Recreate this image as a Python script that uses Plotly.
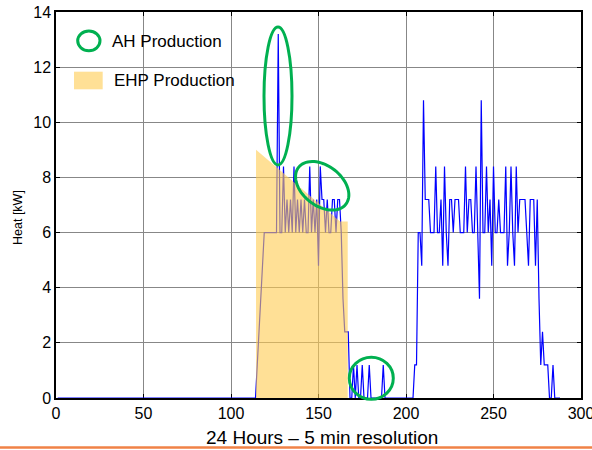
import math
import plotly.graph_objects as go

# ---------------- data ----------------
time_steps = list(range(1, 289))  # 5-min steps over 24 h

ah_production = [
    0, 0, 0, 0, 0, 0, 0, 0, 0, 0,            # 1-10
    0, 0, 0, 0, 0, 0, 0, 0, 0, 0,            # 11-20
    0, 0, 0, 0, 0, 0, 0, 0, 0, 0,            # 21-30
    0, 0, 0, 0, 0, 0, 0, 0, 0, 0,            # 31-40
    0, 0, 0, 0, 0, 0, 0, 0, 0, 0,            # 41-50
    0, 0, 0, 0, 0, 0, 0, 0, 0, 0,            # 51-60
    0, 0, 0, 0, 0, 0, 0, 0, 0, 0,            # 61-70
    0, 0, 0, 0, 0, 0, 0, 0, 0, 0,            # 71-80
    0, 0, 0, 0, 0, 0, 0, 0, 0, 0,            # 81-90
    0, 0, 0, 0, 0, 0, 0, 0, 0, 0,            # 91-100
    0, 0, 0, 0, 0, 0, 0, 0, 0, 0,            # 101-110
    0, 0, 0, 0, 1.2, 2.4, 3.6, 4.8, 6, 6,    # 111-120
    6, 6, 6, 6, 6, 6, 13.2, 6, 6, 8.4,       # 121-130
    6, 7.2, 6, 7.2, 6, 8.4, 6, 7.2, 6, 7.2,  # 131-140
    6, 7.2, 6, 6, 8.4, 6, 7.2, 6, 7.2, 4.8,  # 141-150
    8.4, 7.2, 7.2, 6, 7.2, 6, 6, 7.2, 7.2, 6,  # 151-160
    7.2, 7.2, 6, 3.6, 2.4, 2.4, 2.4, 0, 0, 1.2,  # 161-170
    0, 1.2, 0, 0, 1.2, 0, 0, 0, 1.2, 0,      # 171-180
    0, 0, 0, 0, 0, 0, 1.2, 0, 0, 0,          # 181-190
    0, 0, 0, 0, 0, 0, 0, 0, 0, 0,            # 191-200
    0, 0, 0, 0, 1.2, 1.2, 6, 6, 4.8, 10.8,   # 201-210
    7.2, 7.2, 7.2, 6, 6, 6, 8.4, 6, 6, 7.2,  # 211-220
    4.8, 8.4, 6, 4.8, 7.2, 7.2, 6, 7.2, 7.2, 7.2,  # 221-230
    6, 6, 6, 8.4, 6, 7.2, 7.2, 6, 6, 8.4,    # 231-240
    6, 3.6, 10.8, 6, 6, 8.4, 6, 7.2, 4.8, 8.4,  # 241-250
    6, 6, 7.2, 6, 6, 6, 8.4, 4.8, 6, 8.4,    # 251-260
    6, 4.8, 8.4, 6, 7.2, 7.2, 7.2, 7.2, 6, 4.8,  # 261-270
    7.2, 7.2, 7.2, 4.8, 7.2, 3.6, 1.2, 2.4, 1.2, 1.2,  # 271-280
    1.2, 0, 0, 1.2, 0, 0, 0, 0,              # 281-288
]
assert len(ah_production) == len(time_steps)

ehp_x = [114.3, 114.3, 162.3, 166.7, 166.7]
ehp_y = [0.0, 9.0, 6.4, 6.4, 0.0]

x_ticks = [0, 50, 100, 150, 200, 250, 300]
y_ticks = [0, 2, 4, 6, 8, 10, 12, 14]

legend_labels = ["AH Production", "EHP Production"]
x_title = "24 Hours \u2013 5 min resolution"
y_title = "Heat [kW]"

# ---------------- layout helpers ----------------
W, H = 592, 450
PL, PR, PT, PB = 56, 581, 12, 398
FONT = "Liberation Sans, Arial, sans-serif"
GREEN = "rgb(0,176,80)"
YELLOW = "rgba(255,204,80,0.6)"


def fx(p):
    return (p - PL) / (PR - PL)


def fy(p):
    return (PB - p) / (PB - PT)


def ellipse_box(x0, y0, x1, y1, width=3):
    return dict(type="circle", xref="paper", yref="paper",
                x0=fx(x0), x1=fx(x1), y0=fy(y1), y1=fy(y0),
                line=dict(color=GREEN, width=width), layer="above")


def rotated_ellipse(cx, cy, a, b, deg, width=3):
    th = math.radians(deg)
    pts = []
    for i in range(73):
        t = 2 * math.pi * i / 72
        ex, ey = a * math.cos(t), b * math.sin(t)
        px = cx + ex * math.cos(th) - ey * math.sin(th)
        py = cy + ex * math.sin(th) + ey * math.cos(th)
        pts.append(f"{fx(px):.5f},{fy(py):.5f}")
    path = "M " + " L ".join(pts) + " Z"
    return dict(type="path", xref="paper", yref="paper", path=path,
                line=dict(color=GREEN, width=width), layer="above")


fig = go.Figure()
fig.add_trace(go.Scatter(x=time_steps, y=ah_production, mode="lines",
                         line=dict(color="rgb(0,0,255)", width=1.2),
                         showlegend=False, hoverinfo="skip"))
fig.add_trace(go.Scatter(x=ehp_x, y=ehp_y, mode="lines", fill="toself",
                         fillcolor=YELLOW, line=dict(width=0),
                         showlegend=False, hoverinfo="skip"))

axis_common = dict(showgrid=True, gridcolor="rgb(135,135,135)", gridwidth=1,
                   showline=True, linecolor="black", linewidth=1.5,
                   mirror="ticks", ticks="inside", ticklen=4,
                   tickcolor="black", zeroline=False, automargin=False,
                   ticklabeloverflow="allow",
                   tickfont=dict(family=FONT, size=16, color="black"),
                   layer="below traces")

shapes = [
    ellipse_box(264, 27, 292, 165),
    rotated_ellipse(322.2, 185.8, 30, 20, 38),
    ellipse_box(349.3, 357.3, 393.3, 399.3),
    # legend symbols
    ellipse_box(77.7, 31, 100, 50.7),
    dict(type="rect", xref="paper", yref="paper",
         x0=fx(74), x1=fx(102.7), y0=fy(89.3), y1=fy(71.7),
         fillcolor=YELLOW, line=dict(width=0), layer="above"),
    # orange slide rule at bottom
    dict(type="line", xref="paper", yref="paper",
         x0=fx(0), x1=fx(W), y0=fy(447.5), y1=fy(447.5),
         line=dict(color="rgb(240,130,70)", width=2.5)),
]

annotations = [
    dict(text=legend_labels[0], x=fx(110), y=fy(41), xref="paper", yref="paper",
         xanchor="left", yanchor="middle", showarrow=False,
         font=dict(family=FONT, size=17, color="black")),
    dict(text=legend_labels[1], x=fx(112), y=fy(81), xref="paper", yref="paper",
         xanchor="left", yanchor="middle", showarrow=False,
         font=dict(family=FONT, size=17, color="black")),
    dict(text=x_title, x=fx(322), y=fy(438), xref="paper", yref="paper",
         xanchor="center", yanchor="middle", showarrow=False,
         font=dict(family=FONT, size=19, color="black")),
    dict(text=y_title, x=fx(18), y=fy(218), xref="paper", yref="paper",
         xanchor="center", yanchor="middle", showarrow=False, textangle=-90,
         font=dict(family=FONT, size=12.5, color="black")),
]

fig.update_layout(
    width=W, height=H,
    margin=dict(l=PL, r=W - PR, t=PT, b=H - PB, pad=0, autoexpand=False),
    paper_bgcolor="white", plot_bgcolor="white",
    xaxis=dict(range=[0, 300], tickvals=x_ticks, **axis_common),
    yaxis=dict(range=[0, 14], tickvals=y_ticks, **axis_common),
    shapes=shapes, annotations=annotations,
    showlegend=False,
)

fig.write_html("out.html")
